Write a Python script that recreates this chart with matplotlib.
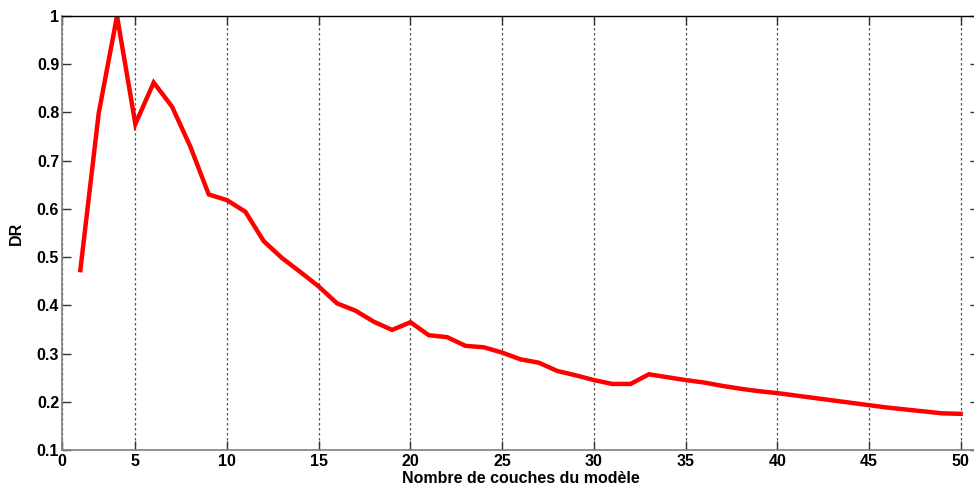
import numpy as np
import matplotlib.pyplot as plt

# data (x = number of layers)
layers = list(range(2, 51))
dr = [0.473, 0.798, 1.000, 0.776, 0.862, 0.812, 0.729, 0.630, 0.618, 0.594,
      0.533, 0.498, 0.469, 0.439, 0.404, 0.389, 0.366, 0.349, 0.365, 0.338,
      0.334, 0.316, 0.313, 0.302, 0.288, 0.281, 0.264, 0.255, 0.245, 0.237,
      0.237, 0.257, 0.251, 0.245, 0.240, 0.233, 0.227, 0.222, 0.218, 0.213,
      0.208, 0.203, 0.198, 0.193, 0.188, 0.184, 0.180, 0.176, 0.175]

xtick_pos = [1, 5, 10, 15, 20, 25, 30, 35, 40, 45, 50]
xtick_labels = ['0', '5', '10', '15', '20', '25', '30', '35', '40', '45', '50']
ytick_pos = [0.1, 0.2, 0.3, 0.4, 0.5, 0.6, 0.7, 0.8, 0.9, 1.0]
ytick_labels = ['0.1', '0.2', '0.3', '0.4', '0.5', '0.6', '0.7', '0.8', '0.9', '1']

plt.rcParams['font.family'] = ['Liberation Sans', 'DejaVu Sans']
plt.rcParams['font.weight'] = 'bold'

fig = plt.figure(figsize=(9.74, 4.88), dpi=100)
ax = fig.add_axes([62 / 974, 1 - 450 / 488, (979 - 62) / 974, (450 - 16) / 488])

ax.plot(layers, dr, color='#ff0000', linewidth=3.2, solid_joinstyle='miter')

ax.set_xlim(1, 51)
ax.set_ylim(0.1, 1.0)
ax.set_xticks(xtick_pos)
ax.set_xticklabels(xtick_labels)
ax.set_yticks(ytick_pos)
ax.set_yticklabels(ytick_labels)

ax.xaxis.grid(True, linestyle=(0, (2, 2)), color='#555555', linewidth=0.9)
ax.yaxis.grid(False)

ax.tick_params(direction='in', length=6.5, width=1.0, colors='#333333',
               labelcolor='black', labelsize=11.5, top=True, right=True, pad=3)
ax.tick_params(axis='y', pad=2)
for lab in ax.get_xticklabels() + ax.get_yticklabels():
    lab.set_fontweight('bold')

for side in ['left', 'bottom']:
    ax.spines[side].set_color('#808080')
    ax.spines[side].set_linewidth(1.2)
ax.spines['top'].set_color('black')
ax.spines['top'].set_linewidth(1.0)

ax.set_xlabel('Nombre de couches du modèle', fontsize=11.5, fontweight='bold', labelpad=1)
ax.set_ylabel('DR', fontsize=11.5, fontweight='bold', labelpad=9)

fig.savefig('out.png', dpi=100)
